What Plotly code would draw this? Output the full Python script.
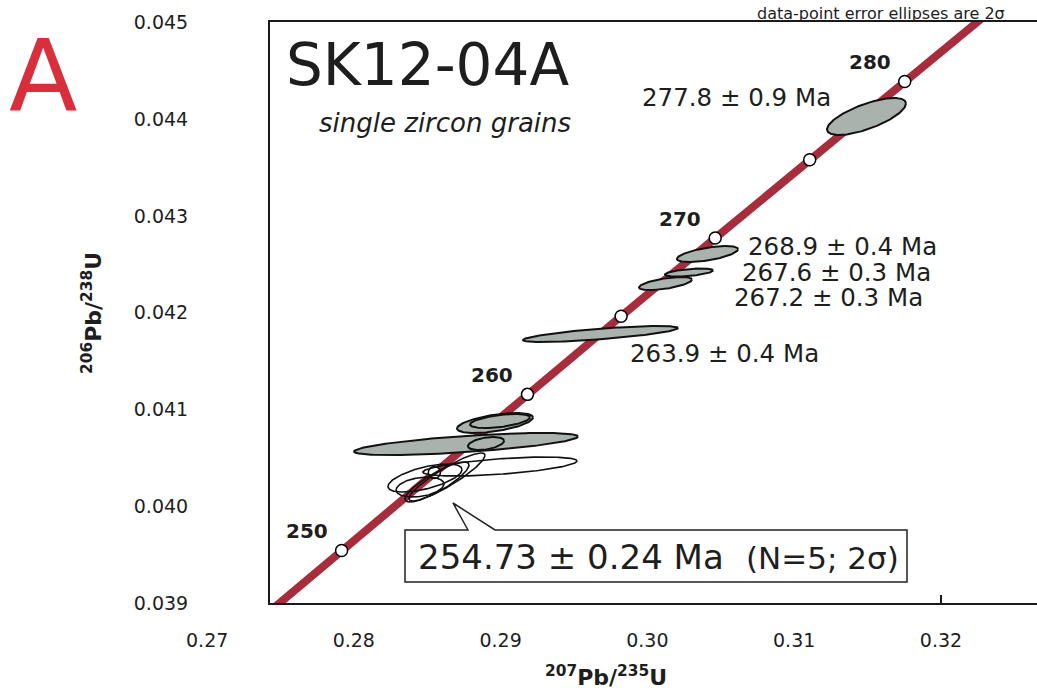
import numpy as np
import plotly.graph_objects as go

# ---------------- data ----------------
# Concordia reference points: age (Ma), 207Pb/235U, 206Pb/238U
CONC_AGE = [245, 250, 255, 260, 265, 270, 275, 280, 285]
CONC_X = [0.272888, 0.279171, 0.285486, 0.291832, 0.298209, 0.304617, 0.311057, 0.317530, 0.324033]
CONC_Y = [0.038737, 0.039543, 0.040350, 0.041157, 0.041965, 0.042773, 0.043582, 0.044392, 0.045202]
MARK_AGES = [250, 255, 260, 265, 270, 275, 280]
LABEL_AGES = [250, 260, 270, 280]

# Filled (grey) grain ellipses: 207/235, 2s, 206/238, 2s, rho
GRAY_X = [0.287643, 0.289619, 0.289959, 0.289005, 0.296805, 0.301233, 0.302834, 0.304094, 0.314925]
GRAY_SX = [0.00763, 0.00259, 0.00204, 0.00123, 0.00528, 0.001805, 0.001635, 0.00208, 0.00269]
GRAY_Y = [0.040644, 0.040861, 0.040882, 0.040649, 0.041781, 0.042303, 0.042417, 0.042608, 0.044030]
GRAY_SY = [0.000114, 0.000103, 0.0000724, 0.0000672, 0.0000827, 0.0000672, 0.0000414, 0.0000827, 0.000191]
GRAY_RHO = [0.68, 0.55, 0.5, 0.4, 0.75, 0.6, 0.5, 0.6, 0.7]
GRAY_LABEL = ["", "", "", "", "263.9 ± 0.4 Ma", "267.2 ± 0.3 Ma", "267.6 ± 0.3 Ma",
              "268.9 ± 0.4 Ma", "277.8 ± 0.9 Ma"]

# Open grain ellipses (used for weighted mean)
OPEN_X = [0.289959, 0.284850, 0.285668, 0.286349, 0.284510]
OPEN_SX = [0.00525, 0.00252, 0.00218, 0.00259, 0.00163]
OPEN_Y = [0.040411, 0.040292, 0.040251, 0.040303, 0.040199]
OPEN_SY = [0.0000982, 0.000145, 0.000207, 0.000248, 0.000103]
OPEN_RHO = [0.58, 0.6, 0.85, 0.9, 0.3]

X_TICKS = [0.27, 0.28, 0.29, 0.30, 0.31, 0.32]
Y_TICKS = [0.039, 0.040, 0.041, 0.042, 0.043, 0.044, 0.045]
X_RANGE = [0.274292, 0.326540]
Y_RANGE = [0.039, 0.045007]

MEAN_TEXT = "254.73 ± 0.24 Ma"
MEAN_SUB = "(N=5; 2σ)"

# ---------------- style ----------------
W, H = 1037, 694
ML, MR, MT, MB = 270, 0, 22, 91
PW, PH = W - ML - MR, H - MT - MB
FONT = "DejaVu Sans"
INK = "#1e1e1e"
RED = "#a82d3c"
GREY = "#a9b2ac"


def px2x(px):
    return (px - ML) / PW


def px2y(py):
    return (MT + PH - py) / PH


def ellipse_xy(cx, hx, cy, hy, rho, n=181):
    t = np.linspace(0, 2 * np.pi, n)
    x = cx + hx * np.cos(t)
    y = cy + hy * (rho * np.cos(t) + np.sqrt(1 - rho ** 2) * np.sin(t))
    return x, y


fig = go.Figure()

# concordia curve
fig.add_trace(go.Scatter(x=CONC_X, y=CONC_Y, mode="lines",
                         line=dict(color=RED, width=8), hoverinfo="skip"))

# age markers
mx = [CONC_X[CONC_AGE.index(a)] for a in MARK_AGES]
my = [CONC_Y[CONC_AGE.index(a)] for a in MARK_AGES]
fig.add_trace(go.Scatter(x=mx, y=my, mode="markers",
                         marker=dict(symbol="circle", size=12, color="white",
                                     line=dict(color="black", width=1.5)),
                         hoverinfo="skip"))

# grey ellipses
for i in range(len(GRAY_X)):
    ex, ey = ellipse_xy(GRAY_X[i], GRAY_SX[i], GRAY_Y[i], GRAY_SY[i], GRAY_RHO[i])
    fig.add_trace(go.Scatter(x=ex, y=ey, mode="lines", fill="toself",
                             fillcolor=GREY, line=dict(color="#111", width=2),
                             hoverinfo="skip"))

# open ellipses
for i in range(len(OPEN_X)):
    ex, ey = ellipse_xy(OPEN_X[i], OPEN_SX[i], OPEN_Y[i], OPEN_SY[i], OPEN_RHO[i])
    fig.add_trace(go.Scatter(x=ex, y=ey, mode="lines",
                             line=dict(color="#111", width=1.6), hoverinfo="skip"))

ann = []


def paper_text(px, py, text, size, color=INK, xanchor="center", yanchor="middle", **kw):
    ann.append(dict(x=px2x(px), y=px2y(py), xref="paper", yref="paper", text=text,
                    showarrow=False, xanchor=xanchor, yanchor=yanchor,
                    font=dict(family=FONT, size=size, color=color), **kw))


# age labels on concordia
for a in LABEL_AGES:
    k = CONC_AGE.index(a)
    ann.append(dict(x=CONC_X[k], y=CONC_Y[k], xref="x", yref="y", text="<b>%d</b>" % a,
                    showarrow=False, xshift=-35, yshift=19, xanchor="center", yanchor="middle",
                    font=dict(family=FONT, size=20, color=INK)))

# grain age labels
label_shift = {4: (124.5, -19), 5: (163.5, -13.5), 6: (147, 0.5), 7: (135.5, 8), 8: (-129.5, 19.5)}
for i, txt in enumerate(GRAY_LABEL):
    if not txt:
        continue
    sx, sy = label_shift[i]
    ann.append(dict(x=GRAY_X[i], y=GRAY_Y[i], xref="x", yref="y", text=txt,
                    showarrow=False, xshift=sx, yshift=sy, xanchor="center", yanchor="middle",
                    font=dict(family=FONT, size=24.5, color=INK)))

# titles / texts
paper_text(43, 76, "A", 100, color="#d92f3d")
paper_text(427, 65, "SK12-04A", 58)
paper_text(445, 123, "<i>single zircon grains</i>", 26)
paper_text(881, 14, "data-point error ellipses are 2σ", 16)

# mean-age box text
paper_text(416, 557, MEAN_TEXT, 34, xanchor="left")
paper_text(901, 558, MEAN_SUB, 31, xanchor="right")

# axis titles
paper_text(606, 676, "<b><sup>207</sup>Pb/<sup>235</sup>U</b>", 22)
paper_text(92, 313, "<b><sup>206</sup>Pb/<sup>238</sup>U</b>", 22, textangle=-90)

# x tick labels outside the plotted range (left of the frame)
for v in X_TICKS:
    if v < X_RANGE[0]:
        ann.append(dict(x=(v - X_RANGE[0]) / (X_RANGE[1] - X_RANGE[0]), y=px2y(640),
                        xref="paper", yref="paper", text="%.2f" % v, showarrow=False,
                        xanchor="center", yanchor="middle",
                        font=dict(family=FONT, size=19, color=INK)))

# callout box for mean age
bx0, bx1, by0, by1 = px2x(405), px2x(907), px2y(530), px2y(582)
lx0, lx1, ax_, ay_ = px2x(468), px2x(495), px2x(453), px2y(503)
path = ("M {lx0},{by0} L {ax},{ay} L {lx1},{by0} L {bx1},{by0} L {bx1},{by1} "
        "L {bx0},{by1} L {bx0},{by0} Z").format(lx0=lx0, by0=by0, ax=ax_, ay=ay_, lx1=lx1,
                                                bx1=bx1, by1=by1, bx0=bx0)
shapes = [dict(type="path", xref="paper", yref="paper", path=path,
               line=dict(color="#222", width=1.5), fillcolor="rgba(255,255,255,0)", layer="above")]

fig.update_layout(
    width=W, height=H, autosize=False,
    margin=dict(l=ML, r=MR, t=MT, b=MB, pad=0),
    paper_bgcolor="white", plot_bgcolor="white",
    showlegend=False, annotations=ann, shapes=shapes,
    font=dict(family=FONT, color=INK),
)
fig.update_xaxes(range=X_RANGE, tickvals=[v for v in X_TICKS if v >= X_RANGE[0]],
                 ticktext=["%.2f" % v for v in X_TICKS if v >= X_RANGE[0]],
                 tickfont=dict(family=FONT, size=19, color=INK), ticks="",
                 minor=dict(tickvals=[X_TICKS[-1]], ticks="inside", ticklen=8,
                            tickwidth=1.5, tickcolor="#1a1a1a", showgrid=False),
                 ticklabelstandoff=19, showgrid=False, zeroline=False,
                 showline=True, linecolor="#1a1a1a", linewidth=2, mirror=True)
fig.update_yaxes(range=Y_RANGE, tickvals=Y_TICKS, ticktext=["%.3f" % v for v in Y_TICKS],
                 tickfont=dict(family=FONT, size=19, color=INK), ticks="",
                 ticklabelstandoff=76, showgrid=False, zeroline=False,
                 showline=True, linecolor="#1a1a1a", linewidth=2, mirror=False)

fig.write_html("out.html")
